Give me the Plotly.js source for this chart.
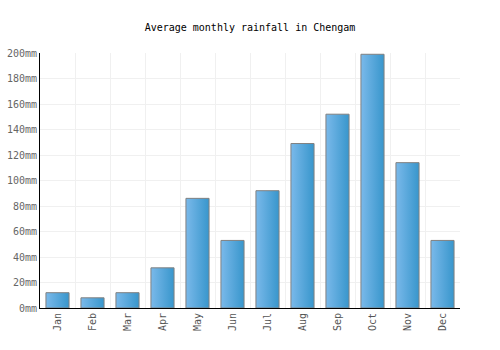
<!DOCTYPE html>
<html>
<head>
<meta charset="utf-8">
<script src="https://cdn.plot.ly/plotly-3.0.1.min.js"></script>
<style>html,body{margin:0;padding:0;background:#fff}#chart{width:500px;height:350px}</style>
</head>
<body>
<div id="chart"></div>
<script>
var months = ["Jan","Feb","Mar","Apr","May","Jun","Jul","Aug","Sep","Oct","Nov","Dec"];
var rainfall = [12, 8, 12, 31.5, 86, 53, 92, 129, 152, 199, 114, 53];
var yTicks = [0, 20, 40, 60, 80, 100, 120, 140, 160, 180, 200];
var yTickLabels = yTicks.map(function(v){ return v + "mm"; });

var font = "DejaVu Sans Mono, monospace";

var trace = {
  type: "bar",
  x: months,
  y: rainfall,
  marker: { color: "#5aaae0", line: { color: "#808080", width: 1 } },
  hoverinfo: "x+y"
};

var layout = {
  width: 500, height: 350,
  margin: { l: 40, r: 40, t: 53, b: 41.5 },
  paper_bgcolor: "#fff", plot_bgcolor: "#fff",
  title: { text: "Average monthly rainfall in Chengam", font: { family: font, size: 10, color: "#000" }, x: 0.5, xanchor: "center", y: 0.922, yanchor: "middle" },
  bargap: 0.34,
  showlegend: false,
  xaxis: {
    type: "category",
    tickangle: -90,
    tickfont: { family: font, size: 10, color: "#555" },
    showline: true, linecolor: "#000", linewidth: 1,
    showgrid: true, gridcolor: "#f0f0f0", tickson: "boundaries",
    ticks: "", fixedrange: true
  },
  yaxis: {
    range: [0, 200],
    tickvals: yTicks, ticktext: yTickLabels,
    tickfont: { family: font, size: 10, color: "#666" },
    showline: true, linecolor: "#000", linewidth: 1,
    showgrid: true, gridcolor: "#f0f0f0",
    zeroline: false, ticks: "", fixedrange: true
  }
};

Plotly.newPlot("chart", [trace], layout, { displayModeBar: false, staticPlot: true }).then(function(gd){
  var svg = gd.querySelector("svg.main-svg");
  var ns = "http://www.w3.org/2000/svg";
  var defs = svg.querySelector("defs") || svg.insertBefore(document.createElementNS(ns, "defs"), svg.firstChild);
  var g = document.createElementNS(ns, "linearGradient");
  g.setAttribute("id", "barGrad");
  g.setAttribute("x1", "0"); g.setAttribute("y1", "0"); g.setAttribute("x2", "1"); g.setAttribute("y2", "0");
  [["0", "#7ab9ea"], ["1", "#3896cc"]].forEach(function(s){
    var st = document.createElementNS(ns, "stop");
    st.setAttribute("offset", s[0]); st.setAttribute("stop-color", s[1]);
    g.appendChild(st);
  });
  defs.appendChild(g);
  gd.querySelectorAll(".bars .point path").forEach(function(p){
    p.style.fill = "url(#barGrad)";
  });
});
</script>
</body>
</html>
